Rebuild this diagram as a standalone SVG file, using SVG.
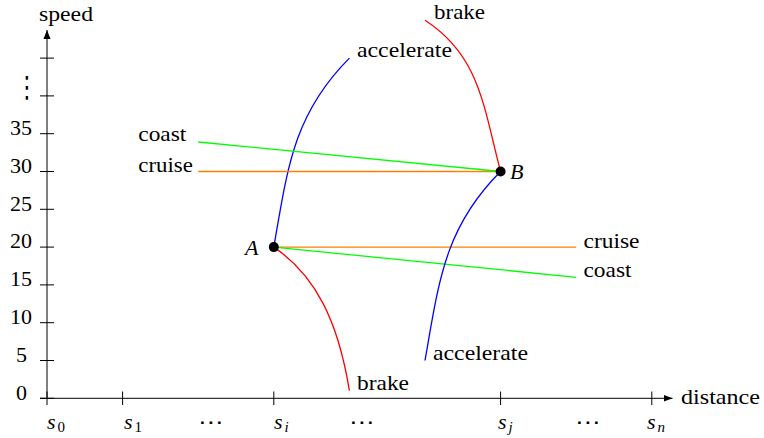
<svg xmlns="http://www.w3.org/2000/svg" width="764" height="438" viewBox="0 0 764 438" font-family="Liberation Serif" font-size="22">
<defs>
<style>
.it{font-style:italic}
.ax{stroke:#000;stroke-width:1;fill:none}
.tk{stroke:#000;stroke-width:1}
.c{fill:none;stroke-width:1.3}
.blue{stroke:#0000ff}.red{stroke:#ff0000}.green{stroke:#00ff00}.orange{stroke:#ff8000}
</style>
<marker id="arr" markerUnits="userSpaceOnUse" markerWidth="10" markerHeight="8" refX="9" refY="3.5" orient="auto" viewBox="0 0 10 7">
<path d="M0,0 L9,3.5 L0,7 Z" fill="#000"/>
</marker>
</defs>
<rect width="764" height="438" fill="#fff"/>

<g id="axes">
<line class="ax" x1="47" y1="398.3" x2="47" y2="30" marker-end="url(#arr)"/>
<line class="ax" x1="40" y1="398.3" x2="672.5" y2="398.3" marker-end="url(#arr)"/>
<g id="yticks">
<line class="tk" x1="40" y1="398.3" x2="54" y2="398.3"/>
<line class="tk" x1="40" y1="360.5" x2="54" y2="360.5"/>
<line class="tk" x1="40" y1="322.7" x2="54" y2="322.7"/>
<line class="tk" x1="40" y1="284.9" x2="54" y2="284.9"/>
<line class="tk" x1="40" y1="247.1" x2="54" y2="247.1"/>
<line class="tk" x1="40" y1="209.3" x2="54" y2="209.3"/>
<line class="tk" x1="40" y1="171.5" x2="54" y2="171.5"/>
<line class="tk" x1="40" y1="133.7" x2="54" y2="133.7"/>
<line class="tk" x1="40" y1="95.9" x2="54" y2="95.9"/>
<line class="tk" x1="40" y1="58.1" x2="54" y2="58.1"/>
</g>
<g id="xticks">
<line class="tk" x1="47" y1="391.5" x2="47" y2="405"/>
<line class="tk" x1="122.6" y1="391.5" x2="122.6" y2="405"/>
<line class="tk" x1="273.8" y1="391.5" x2="273.8" y2="405"/>
<line class="tk" x1="500.6" y1="391.5" x2="500.6" y2="405"/>
<line class="tk" x1="651.8" y1="391.5" x2="651.8" y2="405"/>
</g>
<text font-family="Liberation Serif" x="39" y="21" textLength="54" lengthAdjust="spacingAndGlyphs">speed</text>
<text font-family="Liberation Serif" x="681" y="404" textLength="79" lengthAdjust="spacingAndGlyphs">distance</text>
<g id="ylabels" font-family="Liberation Serif" font-size="22">
<text x="27" y="399.6" text-anchor="end">0</text>
<text x="27" y="361.8" text-anchor="end">5</text>
<text x="32" y="324" text-anchor="end">10</text>
<text x="32" y="286.2" text-anchor="end">15</text>
<text x="32" y="248.4" text-anchor="end">20</text>
<text x="32" y="210.6" text-anchor="end">25</text>
<text x="32" y="172.8" text-anchor="end">30</text>
<text x="32" y="135" text-anchor="end">35</text>
<text transform="translate(27,96.5) scale(1,1.35)" x="0" y="0" text-anchor="middle" font-family="DejaVu Sans" font-size="22">⋮</text>
</g>
<g id="xlabels" font-family="Liberation Serif">
<text x="47" y="428.5" font-style="italic" font-size="22">s</text><text x="57.5" y="432" font-size="15">0</text>
<text x="124" y="428.5" font-style="italic" font-size="22">s</text><text x="134.5" y="432" font-size="15">1</text>
<text x="274" y="428.5" font-style="italic" font-size="22">s</text><text x="284.5" y="432" font-size="15" font-style="italic">i</text>
<text x="498" y="428.5" font-style="italic" font-size="22">s</text><text x="508.5" y="432" font-size="15" font-style="italic">j</text>
<text x="647" y="428.5" font-style="italic" font-size="22">s</text><text x="657.5" y="432" font-size="15" font-style="italic">n</text>
<text transform="translate(211,429) scale(1.25,1)" x="0" y="0" text-anchor="middle" font-family="DejaVu Sans" font-size="20">⋯</text>
<text transform="translate(362,429) scale(1.25,1)" x="0" y="0" text-anchor="middle" font-family="DejaVu Sans" font-size="20">⋯</text>
<text transform="translate(588,429) scale(1.25,1)" x="0" y="0" text-anchor="middle" font-family="DejaVu Sans" font-size="20">⋯</text>
</g>
</g>

<g id="connectors">
<path class="c blue" d="M273.8,247.1 C287.5,168.6 293.1,114.6 349.4,58.1"/>
<path class="c red" d="M273.8,247.1 C315,275 338,320 349.4,390.7"/>
<line class="c orange" x1="273.8" y1="247.1" x2="576.2" y2="247.1"/>
<line class="c green" x1="273.8" y1="247.1" x2="576.2" y2="277.3"/>
<path class="c red" d="M425,20.3 C480.4,56.3 483.5,107.5 500.6,171.5"/>
<path class="c blue" d="M425,360.5 C438.9,281.9 444.2,227.7 500.6,171.5"/>
<line class="c orange" x1="198.2" y1="171.5" x2="500.6" y2="171.5"/>
<line class="c green" x1="198.2" y1="142" x2="500.6" y2="171.5"/>
</g>

<g id="node-A">
<circle cx="273.8" cy="247.1" r="5" fill="#000"/>
<text font-family="Liberation Serif" font-size="22" font-style="italic" x="245" y="255">A</text>
</g>
<g id="node-B">
<circle cx="500.6" cy="171.5" r="5" fill="#000"/>
<text font-family="Liberation Serif" font-size="22" font-style="italic" x="510" y="178.5">B</text>
</g>
<g id="labels" font-family="Liberation Serif" font-size="22">
<text x="357" y="57" textLength="95" lengthAdjust="spacingAndGlyphs">accelerate</text>
<text x="434" y="19" textLength="51" lengthAdjust="spacingAndGlyphs">brake</text>
<text x="357" y="390" textLength="52" lengthAdjust="spacingAndGlyphs">brake</text>
<text x="433" y="360" textLength="95" lengthAdjust="spacingAndGlyphs">accelerate</text>
<text x="583.5" y="247.5" textLength="56" lengthAdjust="spacingAndGlyphs">cruise</text>
<text x="583.5" y="276.5" textLength="48" lengthAdjust="spacingAndGlyphs">coast</text>
<text x="138.3" y="140.5" textLength="48" lengthAdjust="spacingAndGlyphs">coast</text>
<text x="138.3" y="171.5" textLength="54.5" lengthAdjust="spacingAndGlyphs">cruise</text>
</g>
</svg>
